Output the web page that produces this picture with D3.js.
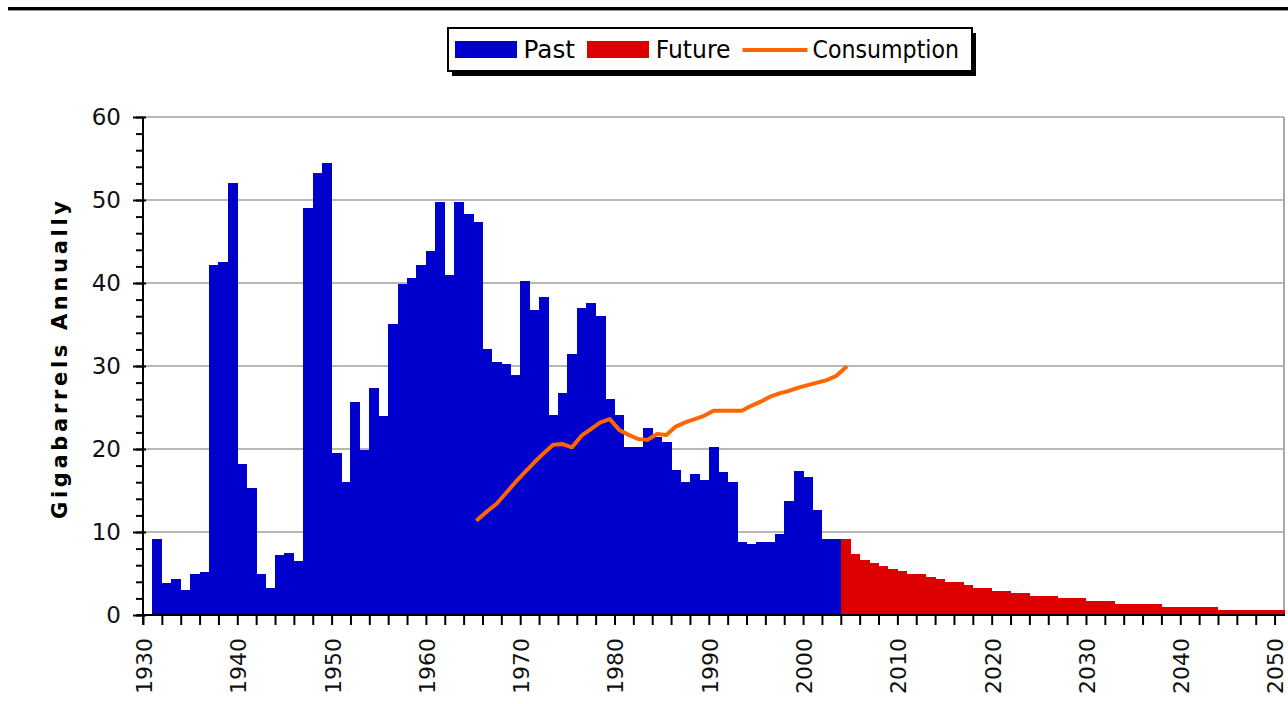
<!DOCTYPE html>
<html>
<head>
<meta charset="utf-8">
<script src="https://cdn.jsdelivr.net/npm/d3@7/dist/d3.min.js"></script>
<style>
  html, body { margin: 0; padding: 0; background: #fff; }
  svg { display: block; }
</style>
</head>
<body>
<svg id="chart" width="1288" height="704"></svg>
<script>
// ---------------- DATA ----------------
const pastYears = d3.range(1931, 2004);
const pastValues = [
  9.1, 3.9, 4.3, 3.0, 4.9, 5.2, 42.2, 42.5, 52.0, 18.2,
  15.3, 4.9, 3.3, 7.2, 7.5, 6.5, 49.0, 53.3, 54.5, 19.5,
  16.0, 25.7, 19.9, 27.3, 24.0, 35.1, 39.9, 40.6, 42.2, 43.8,
  49.8, 41.0, 49.8, 48.3, 47.4, 32.1, 30.5, 30.2, 28.9, 40.2,
  36.7, 38.3, 24.1, 26.7, 31.5, 37.0, 37.6, 36.0, 26.0, 24.1,
  20.2, 20.2, 22.5, 21.5, 20.8, 17.5, 16.0, 17.0, 16.3, 20.2,
  17.2, 16.0, 8.8, 8.5, 8.8, 8.8, 9.8, 13.7, 17.3, 16.6,
  12.7, 9.1, 9.1
];
const futureYears = d3.range(2004, 2051);
const futureValues = [
  9.2, 7.3, 6.6, 6.3, 5.9, 5.6, 5.3, 4.9, 4.9, 4.6,
  4.3, 4.0, 4.0, 3.6, 3.3, 3.3, 2.9, 2.9, 2.6, 2.6,
  2.3, 2.3, 2.3, 2.0, 2.0, 2.0, 1.65, 1.65, 1.65, 1.3,
  1.3, 1.3, 1.3, 1.3, 0.95, 0.95, 0.95, 0.95, 0.95, 0.95,
  0.6, 0.6, 0.6, 0.6, 0.6, 0.6, 0.6
];
const consYears = d3.range(1965, 2005);
const consValues = [
  11.5, 12.5, 13.4, 14.7, 16.0, 17.2, 18.4, 19.5, 20.5, 20.6,
  20.2, 21.6, 22.4, 23.2, 23.6, 22.3, 21.7, 21.2, 21.1, 21.8,
  21.7, 22.7, 23.2, 23.6, 24.0, 24.6, 24.6, 24.6, 24.6, 25.2,
  25.7, 26.3, 26.7, 27.0, 27.4, 27.7, 28.0, 28.3, 28.8, 29.8
];
const yTicks = [0, 10, 20, 30, 40, 50, 60];
const xLabels = [1930, 1940, 1950, 1960, 1970, 1980, 1990, 2000, 2010, 2020, 2030, 2040, 2050];
const legendLabels = ["Past", "Future", "Consumption"];
const yTitle = "Gigabarrels Annually";

// ---------------- LAYOUT ----------------
const svg = d3.select("#chart");
const pLeft = 143, pRight = 1284, pTop = 117, pBottom = 615;
const x = d3.scaleLinear().domain([1930, 2051]).range([pLeft, pRight]);
const y = d3.scaleLinear().domain([0, 60]).range([pBottom, pTop]);
const FONT = "'DejaVu Sans', Verdana, sans-serif";
const BLUE = "#0000cc", RED = "#dd0000", ORANGE = "#ff6600";

// top rule
svg.append("rect").attr("x", 8).attr("y", 7).attr("width", 1280).attr("height", 3).attr("fill", "#000");
svg.append("rect").attr("x", 8).attr("y", 10).attr("width", 1280).attr("height", 1).attr("fill", "#999");

// gridlines
svg.append("g").selectAll("line").data(yTicks.filter(d => d > 0)).join("line")
  .attr("x1", pLeft).attr("x2", pRight)
  .attr("y1", d => y(d)).attr("y2", d => y(d))
  .attr("stroke", "#b8b8b8").attr("stroke-width", 2);
// right border
svg.append("line").attr("x1", pRight).attr("x2", pRight).attr("y1", pTop).attr("y2", pBottom)
  .attr("stroke", "#a8a8a8").attr("stroke-width", 2);

// bars
const barW = x(1931) - x(1930);
svg.append("g").attr("shape-rendering", "crispEdges").selectAll("rect")
  .data(pastYears.map((yr, i) => ({yr, v: pastValues[i]}))).join("rect")
  .attr("x", d => x(d.yr)).attr("width", d => x(d.yr + 1) - x(d.yr) + 0.5)
  .attr("y", d => y(d.v)).attr("height", d => y(0) - y(d.v))
  .attr("fill", BLUE);
svg.append("g").attr("shape-rendering", "crispEdges").selectAll("rect")
  .data(futureYears.map((yr, i) => ({yr, v: futureValues[i]}))).join("rect")
  .attr("x", d => x(d.yr)).attr("width", d => x(d.yr + 1) - x(d.yr) + 0.5)
  .attr("y", d => y(d.v)).attr("height", d => y(0) - y(d.v))
  .attr("fill", RED);

// consumption line
const line = d3.line().x(d => x(d.yr) + barW / 2).y(d => y(d.v));
svg.append("path")
  .datum(consYears.map((yr, i) => ({yr, v: consValues[i]})))
  .attr("d", line).attr("fill", "none").attr("stroke", ORANGE)
  .attr("stroke-width", 4).attr("stroke-linejoin", "round").attr("stroke-linecap", "square");

// y axis: minor ticks
const yMinor = svg.append("g").attr("transform", `translate(${pLeft},0)`)
  .call(d3.axisLeft(y).tickValues(d3.range(0, 61, 2)).tickSize(7).tickFormat(""));
yMinor.select(".domain").remove();
yMinor.selectAll("line").attr("stroke", "#000").attr("stroke-width", 2);
// y axis major
const yAx = svg.append("g").attr("transform", `translate(${pLeft},0)`)
  .call(d3.axisLeft(y).tickValues(yTicks).tickSize(10).tickPadding(12));
yAx.select(".domain").remove();
yAx.selectAll("line").attr("stroke", "#000").attr("stroke-width", 2).attr("x2", -10).attr("x1", 3);
yAx.selectAll("text").attr("font-family", FONT).attr("font-size", 23).attr("fill", "#111");

// x axis ticks every 2 years
const xAx = svg.append("g").attr("transform", `translate(0,${pBottom})`)
  .call(d3.axisBottom(x).tickValues(d3.range(1930, 2051, 2)).tickSize(10).tickFormat(""));
xAx.select(".domain").remove();
xAx.selectAll("line").attr("stroke", "#000").attr("stroke-width", 2);

// axis lines
svg.append("line").attr("x1", pLeft).attr("x2", pLeft).attr("y1", pTop).attr("y2", pBottom + 10)
  .attr("stroke", "#000").attr("stroke-width", 2);
svg.append("line").attr("x1", pLeft - 6).attr("x2", pRight + 1).attr("y1", pBottom).attr("y2", pBottom)
  .attr("stroke", "#000").attr("stroke-width", 2);

// x labels (rotated)
svg.append("g").selectAll("text").data(xLabels).join("text")
  .attr("transform", d => `translate(${x(d) + 1},638) rotate(-90)`)
  .attr("text-anchor", "end").attr("dy", "0.36em")
  .attr("font-family", FONT).attr("font-size", 22).attr("fill", "#111")
  .text(d => d);

// y title
svg.append("text")
  .attr("transform", `translate(60,360) rotate(-90)`)
  .attr("text-anchor", "middle").attr("dy", "0.35em")
  .attr("font-family", FONT).attr("font-weight", "bold").attr("font-size", 21)
  .attr("textLength", 318).attr("lengthAdjust", "spacing")
  .attr("fill", "#000")
  .text(yTitle);

// legend
const lg = svg.append("g");
lg.append("rect").attr("x", 452).attr("y", 33).attr("width", 524).attr("height", 43).attr("fill", "#000");
lg.append("rect").attr("x", 448).attr("y", 28).attr("width", 524).attr("height", 43)
  .attr("fill", "#fff").attr("stroke", "#000").attr("stroke-width", 2);
const swatches = [
  {type: "rect", color: BLUE, sx: 455, tx: 523.5, tl: 51.5},
  {type: "rect", color: RED, sx: 587, tx: 655.8, tl: 74.7},
  {type: "line", color: ORANGE, sx: 742.5, tx: 812.6, tl: 146.4}
];
swatches.forEach((s, i) => {
  if (s.type === "rect") {
    lg.append("rect").attr("x", s.sx).attr("y", 41).attr("width", 62).attr("height", 17).attr("fill", s.color);
  } else {
    lg.append("line").attr("x1", s.sx).attr("x2", s.sx + 65).attr("y1", 50).attr("y2", 50)
      .attr("stroke", s.color).attr("stroke-width", 4);
  }
  lg.append("text").attr("x", s.tx).attr("y", 57.5)
    .attr("font-family", FONT).attr("font-size", 24)
    .attr("textLength", s.tl).attr("lengthAdjust", "spacingAndGlyphs")
    .attr("fill", "#000").text(legendLabels[i]);
});
</script>
</body>
</html>
